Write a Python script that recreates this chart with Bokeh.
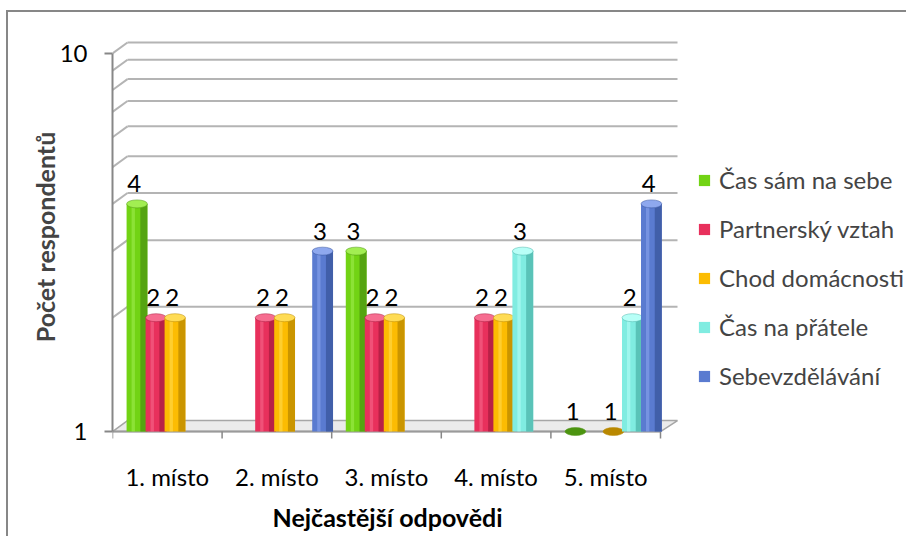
from bokeh.core.properties import value
from bokeh.embed import file_html
from bokeh.models import ColumnDataSource, FixedTicker, Legend, LegendItem, Range1d, Title
from bokeh.plotting import figure
from bokeh.resources import INLINE

# ---- data -------------------------------------------------------------
categories = ["1. místo", "2. místo", "3. místo", "4. místo", "5. místo"]
series_names = ["Čas sám na sebe", "Partnerský vztah", "Chod domácnosti",
                "Čas na přátele", "Sebevzdělávání"]
cas_sam_na_sebe = [4, None, 3, None, 1]
partnersky_vztah = [2, 2, 2, 2, None]
chod_domacnosti = [2, 2, 2, 2, 1]
cas_na_pratele = [None, None, None, 3, 2]
sebevzdelavani = [None, 3, None, None, 4]
y_ticks = [1, 10]
wall_grid_values = [2, 3, 4, 5, 6, 7, 8, 9, 10]

series_values = [cas_sam_na_sebe, partnersky_vztah, chod_domacnosti,
                 cas_na_pratele, sebevzdelavani]

# (face, shade, highlight) per series
palette = [
    ("#72d314", "#4c9410", "#a2ee52"),
    ("#e8305c", "#a81c40", "#f66d90"),
    ("#fcbc02", "#b98800", "#ffdc55"),
    ("#80ece1", "#4db5aa", "#b8fff7"),
    ("#5a7bd0", "#39559c", "#8ea8ee"),
]

FONT = "Lato"
GRID = "#b4b4b4"
AXIS = "#878787"

# ---- geometry of the pseudo-3D box ------------------------------------
PX_PER_CAT = 109.6          # pixels per category slot
PX_PER_DECADE = 380.0       # pixels per decade on the log axis
depth_x = 15 / PX_PER_CAT   # horizontal shift of the back wall
depth_y = 10 ** (11 / PX_PER_DECADE)  # multiplicative shift of the back wall
back_right = 5 + 17 / PX_PER_CAT
bar_w = 0.19
bar_first = 0.2235
bar_step = 0.1734

FRAME_W = 796  # plot area runs to the right edge so the legend fits inside it

p = figure(
    width=900, height=526,
    margin=(10, 0, 0, 6),
    styles={"border-top": "2px solid #878787", "border-left": "2px solid #878787"},
    x_range=Range1d(0, FRAME_W / PX_PER_CAT),
    y_range=Range1d(10 ** (-9 / PX_PER_DECADE), 10 ** (400 / PX_PER_DECADE)),
    y_axis_type="log",
    output_backend="svg", toolbar_location=None,
    min_border_left=104, min_border_right=0,
    min_border_top=21, min_border_bottom=96,
    background_fill_color="white", border_fill_color="white",
)
p.outline_line_color = None
p.xgrid.visible = False
p.ygrid.visible = False

# ---- floor ------------------------------------------------------------
p.patch([0, 5, back_right, depth_x], [1, 1, depth_y, depth_y],
        fill_color="#ebebeb", line_color="#a6a6a6", line_width=1.5)
p.segment(x0=[0], y0=[1], x1=[5], y1=[1], line_color="#9a9a9a", line_width=2)

# back wall and left wall grid lines
gv = wall_grid_values
p.segment(x0=[depth_x] * len(gv), y0=[v * depth_y for v in gv],
          x1=[back_right] * len(gv), y1=[v * depth_y for v in gv],
          line_color=GRID, line_width=2)
p.segment(x0=[0] * len(gv), y0=gv,
          x1=[depth_x] * len(gv), y1=[v * depth_y for v in gv],
          line_color=GRID, line_width=2)

# category boundary ticks below the floor
tick_bottom = 10 ** (-7 / PX_PER_DECADE)
p.segment(x0=list(range(6)), y0=[1] * 6, x1=list(range(6)), y1=[tick_bottom] * 6,
          line_color=AXIS, line_width=1.5)

# ---- bars -------------------------------------------------------------
legend_items = []
for s, (name, vals, (face, shade, light)) in enumerate(zip(series_names, series_values, palette)):
    xs, tops, caps = [], [], []
    for i, v in enumerate(vals):
        if v is None:
            continue
        xs.append(i + bar_first + s * bar_step)
        tops.append(v)
        caps.append(light if v > 1 else shade)
    src = ColumnDataSource(dict(
        x=xs, top=tops, cap=caps,
        shade_x=[x + bar_w * 0.33 for x in xs],
        light_x=[x - bar_w * 0.18 for x in xs],
        label_x=[x - 0.025 for x in xs],
        label=[str(v) for v in tops],
    ))
    r = p.vbar(x="x", top="top", bottom=1, width=bar_w, source=src,
               fill_color=face, line_color=None)
    p.vbar(x="shade_x", top="top", bottom=1, width=bar_w * 0.34, source=src,
           fill_color=shade, fill_alpha=0.75, line_color=None)
    p.vbar(x="light_x", top="top", bottom=1, width=bar_w * 0.16, source=src,
           fill_color=light, fill_alpha=0.55, line_color=None)
    p.ellipse(x="x", y="top", width=bar_w, height=8, height_units="screen",
              source=src, fill_color="cap", line_color=shade, line_width=0.5)
    p.text(x="label_x", y="top", text="label", source=src, y_offset=-20,
           text_align="center", text_baseline="alphabetic",
           text_font=value(FONT), text_font_size="24px", text_color="black")
    legend_items.append(LegendItem(label=name, renderers=[r]))

# ---- axes -------------------------------------------------------------
ya = p.yaxis[0]
ya.ticker = FixedTicker(ticks=y_ticks, minor_ticks=[])
ya.major_label_overrides = {t: str(t) for t in y_ticks}
ya.bounds = (1, 10)
ya.axis_line_color = AXIS
ya.axis_line_width = 2
ya.major_tick_line_color = AXIS
ya.major_tick_line_width = 2
ya.major_tick_out = 8
ya.major_tick_in = 0
ya.minor_tick_line_color = None
ya.major_label_standoff = 17
ya.major_label_text_font = FONT
ya.major_label_text_font_size = "24px"
ya.major_label_text_color = "black"
ya.axis_label = "Počet respondentů"
ya.axis_label_text_font = FONT
ya.axis_label_text_font_style = "bold"
ya.axis_label_text_font_size = "25px"
ya.axis_label_standoff = -3

xa = p.xaxis[0]
centers = [i + 0.5 for i in range(len(categories))]
xa.ticker = FixedTicker(ticks=centers, minor_ticks=[])
xa.major_label_overrides = {c: n for c, n in zip(centers, categories)}
xa.axis_line_color = None
xa.major_tick_line_color = None
xa.minor_tick_line_color = None
xa.major_label_standoff = 15
xa.major_label_text_font = FONT
xa.major_label_text_font_size = "24px"
xa.major_label_text_color = "black"

# x-axis title, centred under the five category slots
p.add_layout(Title(text="Nejčastější odpovědi", align="left", offset=160,
                   standoff=13, text_font=FONT, text_font_style="bold",
                   text_font_size="25px", text_color="black"), "below")

# ---- legend -----------------------------------------------------------
legend = Legend(
    items=legend_items, location=(585, 50), orientation="vertical",
    border_line_color=None, background_fill_alpha=0, padding=0, margin=0,
    spacing=20, label_height=28, glyph_height=14, glyph_width=14,
    label_standoff=8, label_text_font=FONT, label_text_font_size="24px",
)
p.add_layout(legend, "center")

open("out.html", "w").write(file_html(p, INLINE))
